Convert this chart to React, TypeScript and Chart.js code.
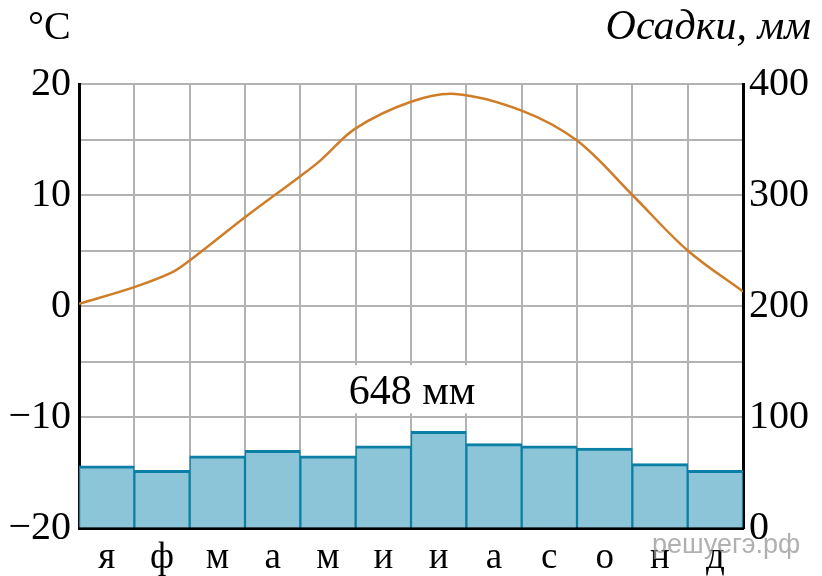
import React, { useEffect, useRef } from "react";
import { Chart, registerables } from "chart.js";

Chart.register(...registerables);

const months = ["я", "ф", "м", "а", "м", "и", "и", "а", "с", "о", "н", "д"];
const precipitation = [56, 52, 65, 70, 65, 74, 87, 76, 74, 72, 58, 52];
const tempX = [0, 1, 1.67, 2, 3, 4, 4.36, 5, 6, 6.8, 8, 9, 10, 11, 12];
const tempY = [0.2, 1.7, 3.0, 4.1, 8.0, 11.7, 13.1, 16.0, 18.4, 19.1, 17.6, 14.9, 10.0, 5.0, 1.3];
const tempTicks = [-20, -10, 0, 10, 20];
const tempGrid = [-20, -15, -10, -5, 0, 5, 10, 15, 20];
const precipTicks = [0, 100, 200, 300, 400];
const totalLabel = "648 мм";
const leftTitle = "°C";
const rightTitle = "Осадки, мм";
const watermark = "решуегэ.рф";

const SERIF = "'Liberation Serif', 'Times New Roman', serif";
const GRID = "#b3b3b3";

const textPlugin = {
  id: "texts",
  afterDatasetsDraw(chart: any) {
    const ctx = chart.ctx;
    const xs = chart.scales.x2;
    const ys = chart.scales.y;
    ctx.save();
    const cx = xs.getPixelForValue(6);
    const cy = ys.getPixelForValue(-7.5);
    ctx.fillStyle = "#ffffff";
    ctx.fillRect(cx - 74, cy - 24, 148, 48);
    ctx.fillStyle = "#000";
    ctx.font = `42px ${SERIF}`;
    ctx.textAlign = "center";
    ctx.textBaseline = "alphabetic";
    ctx.fillText(totalLabel, cx + 1, cy + 15);
    ctx.restore();
  },
  afterDraw(chart: any) {
    const ctx = chart.ctx;
    ctx.save();
    ctx.fillStyle = "#000";
    ctx.textBaseline = "alphabetic";
    ctx.font = `40px ${SERIF}`;
    ctx.textAlign = "left";
    ctx.fillText(leftTitle, 28, 39);
    ctx.font = `italic 42px ${SERIF}`;
    ctx.textAlign = "right";
    ctx.fillText(rightTitle, 811, 39);
    ctx.font = `27px 'Liberation Sans', Arial, sans-serif`;
    ctx.textAlign = "left";
    ctx.fillStyle = "rgba(150,150,150,0.75)";
    ctx.fillText(watermark, 652, 553);
    ctx.restore();
  },
};

export default function App() {
  const ref = useRef<HTMLCanvasElement | null>(null);
  useEffect(() => {
    if (!ref.current) return;
    const chart = new Chart(ref.current, {
      type: "bar",
      data: {
        labels: months,
        datasets: [
          {
            type: "line",
            data: tempX.map((x, i) => ({ x, y: tempY[i] })),
            xAxisID: "x2",
            yAxisID: "y",
            borderColor: "#cf7d28",
            borderWidth: 2.5,
            pointRadius: 0,
            tension: 0.35,
            fill: false,
            order: 0,
          } as any,
          {
            type: "bar",
            data: precipitation,
            xAxisID: "x",
            yAxisID: "y1",
            backgroundColor: "#8cc5d7",
            borderColor: "#0b7fa5",
            borderWidth: { top: 3, left: 1.5, right: 1.5, bottom: 0 },
            borderSkipped: false,
            categoryPercentage: 1,
            barPercentage: 1,
            grouped: false,
            order: 1,
          } as any,
        ],
      },
      options: {
        responsive: false,
        animation: false,
        devicePixelRatio: 1,
        layout: { padding: { top: 84, left: 0, right: 0, bottom: 0 } },
        plugins: { legend: { display: false }, tooltip: { enabled: false }, title: { display: false } },
        scales: {
          x: {
            type: "category",
            offset: true,
            grid: { offset: true, color: GRID, lineWidth: 2, drawTicks: false },
            border: { color: "#000", width: 3 },
            ticks: { color: "#000", font: { family: SERIF, size: 37 }, padding: 8, maxRotation: 0, autoSkip: false },
            afterFit: (s: any) => {
              s.height = 48;
            },
          },
          x2: { type: "linear", min: 0, max: 12, display: false, offset: false, grid: { offset: false } },
          y: {
            type: "linear",
            position: "left",
            min: -20,
            max: 20,
            afterBuildTicks: (s: any) => {
              s.ticks = tempGrid.map((v) => ({ value: v }));
            },
            ticks: {
              color: "#000",
              font: { family: SERIF, size: 40 },
              padding: 8,
              callback: (v: any) => (tempTicks.includes(v) ? (v < 0 ? "\u2212" + Math.abs(v) : String(v)) : ""),
            },
            grid: { color: GRID, lineWidth: 2, drawTicks: false },
            border: { color: "#000", width: 3 },
            afterFit: (s: any) => {
              s.width = 79;
            },
          },
          y1: {
            type: "linear",
            position: "right",
            min: 0,
            max: 400,
            afterBuildTicks: (s: any) => {
              s.ticks = precipTicks.map((v) => ({ value: v }));
            },
            ticks: { color: "#000", font: { family: SERIF, size: 40 }, padding: 6 },
            grid: { drawOnChartArea: false, drawTicks: false },
            border: { color: "#000", width: 3 },
            afterFit: (s: any) => {
              s.width = 79;
            },
          },
        },
      },
      plugins: [textPlugin],
    });
    return () => chart.destroy();
  }, []);
  return (
    <div style={{ position: "absolute", left: 0, top: 0, width: 822, height: 576, background: "#fff" }}>
      <canvas ref={ref} width={822} height={576} style={{ width: 822, height: 576, display: "block" }} />
    </div>
  );
}
